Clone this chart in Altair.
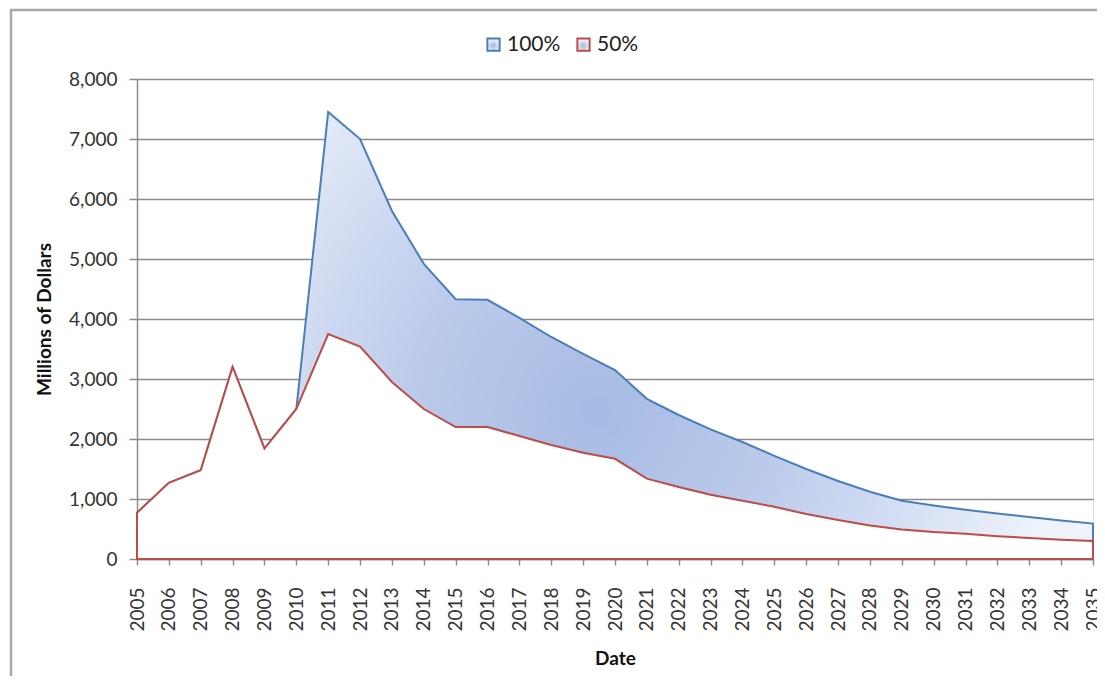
import altair as alt
import pandas as pd

years = list(range(2005, 2036))
full_values = [770, 1270, 1480, 3200, 1840, 2500, 7450, 7000, 5800, 4920,
               4330, 4320, 4020, 3700, 3420, 3150, 2670, 2400, 2160, 1950,
               1720, 1500, 1300, 1120, 970, 890, 820, 760, 700, 640, 590]
half_values = [770, 1270, 1480, 3200, 1840, 2500, 3750, 3540, 2950, 2500,
               2200, 2200, 2050, 1900, 1770, 1670, 1340, 1200, 1070, 970,
               870, 750, 650, 560, 490, 450, 420, 380, 350, 320, 300]
series_names = ["100%", "50%"]
line_colors = ["#4a7ebb", "#be4b48"]
y_ticks = [0, 1000, 2000, 3000, 4000, 5000, 6000, 7000, 8000]

rows = []
for yr, a, b in zip(years, full_values, half_values):
    rows.append({"year": yr, "series": series_names[0], "value": a})
    rows.append({"year": yr, "series": series_names[1], "value": b})
df = pd.DataFrame(rows)

FONT = "Lato"
GRAY = "#8c8c8c"

gradient = {
    "gradient": "radial",
    "x1": 0.48, "y1": 0.58, "r1": 0,
    "x2": 0.48, "y2": 0.58, "r2": 0.48,
    "stops": [
        {"offset": 0, "color": "#a6bae3"},
        {"offset": 0.4, "color": "#bccbeb"},
        {"offset": 1, "color": "#eef3fb"},
    ],
}

x_enc = alt.X(
    "year:Q",
    scale=alt.Scale(domain=[2005, 2035], nice=False, zero=False),
    axis=alt.Axis(
        values=years, format="d", labelAngle=270, title="Date",
        grid=False, tickSize=6, labelPadding=22, titlePadding=18,
        labelFontSize=19, titleFontSize=19, labelFont=FONT, titleFont=FONT,
        labelColor="#333333", titleColor="#111111", titleFontWeight="bold",
        domainColor=GRAY, tickColor=GRAY, domainWidth=1.5, tickWidth=1.5,
        labelOverlap=False, labelFlush=False,
    ),
)
y_enc = alt.Y(
    "value:Q",
    scale=alt.Scale(domain=[0, 8000], nice=False),
    axis=alt.Axis(
        values=y_ticks, format=",.0f", title="Millions of Dollars",
        grid=True, gridColor=GRAY, gridWidth=1.5,
        tickSize=8, labelPadding=12, titlePadding=14,
        labelFontSize=19, titleFontSize=19, labelFont=FONT, titleFont=FONT,
        labelColor="#333333", titleColor="#111111", titleFontWeight="bold",
        domainColor=GRAY, tickColor=GRAY, domainWidth=1.5, tickWidth=1.5,
    ),
)
stroke_enc = alt.Stroke(
    "series:N",
    scale=alt.Scale(domain=series_names, range=line_colors),
    legend=alt.Legend(
        orient="none", legendX=346, legendY=-45, direction="horizontal",
        title=None, symbolType="square", symbolSize=150, symbolStrokeWidth=2,
        symbolFillColor="#f3f5f9", labelFontSize=21, labelFont=FONT,
        labelColor="#222222", columnPadding=12, labelOffset=3,
    ),
)

base = alt.Chart(df)

area_full = base.transform_filter(alt.datum.series == series_names[0]).mark_area(
    fill=gradient, strokeWidth=2, strokeJoin="miter", interpolate="linear"
).encode(x=x_enc, y=y_enc, stroke=stroke_enc)

area_half = base.transform_filter(alt.datum.series == series_names[1]).mark_area(
    fill="#ffffff", strokeWidth=2, strokeJoin="miter", interpolate="linear"
).encode(x=x_enc, y=y_enc, stroke=stroke_enc)

frame = alt.Chart(pd.DataFrame({"k": [0]})).mark_rect(
    fillOpacity=0, stroke="#a8a8a8", strokeWidth=2.5
).encode(x=alt.value(-126), x2=alt.value(1100), y=alt.value(-69), y2=alt.value(700))

chart = alt.layer(area_full, area_half, frame).properties(
    width=956, height=480,
    autosize=alt.AutoSizeParams(type="none"),
    padding={"left": 129, "top": 71, "right": 4, "bottom": 117},
).configure_view(stroke=None).configure(background="#ffffff")

chart.save("out.html", embed_options={"renderer": "svg", "actions": False})
